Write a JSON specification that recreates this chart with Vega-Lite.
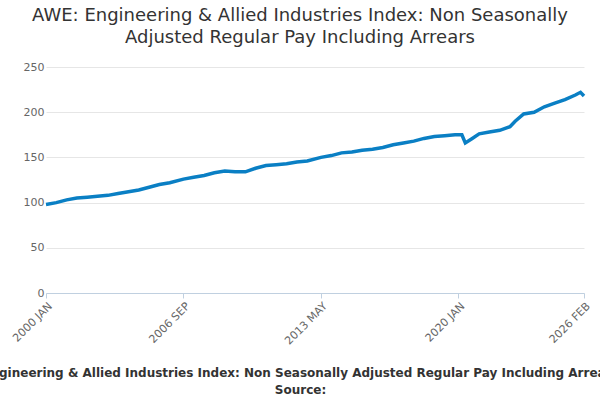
{
  "$schema": "https://vega.github.io/schema/vega-lite/v6.json",
  "width": 538,
  "height": 226,
  "autosize": "none",
  "padding": {"left": 46, "top": 67, "right": 16, "bottom": 107},
  "background": "white",
  "title": {
    "text": ["AWE: Engineering & Allied Industries Index: Non Seasonally", "Adjusted Regular Pay Including Arrears"],
    "fontSize": 18,
    "fontWeight": "normal",
    "font": "DejaVu Sans",
    "color": "#333333",
    "dx": -15,
    "offset": 14,
    "lineHeight": 22
  },
  "data": {
    "values": [
      {"date": "2000-01-01", "value": 98},
      {"date": "2000-07-01", "value": 100},
      {"date": "2001-01-01", "value": 103},
      {"date": "2001-07-01", "value": 105},
      {"date": "2002-01-01", "value": 106},
      {"date": "2002-07-01", "value": 107},
      {"date": "2003-01-01", "value": 108},
      {"date": "2003-07-01", "value": 110},
      {"date": "2004-01-01", "value": 112},
      {"date": "2004-07-01", "value": 114},
      {"date": "2005-01-01", "value": 117},
      {"date": "2005-07-01", "value": 120},
      {"date": "2006-01-01", "value": 122},
      {"date": "2006-09-01", "value": 126},
      {"date": "2007-03-01", "value": 128},
      {"date": "2007-09-01", "value": 130},
      {"date": "2008-03-01", "value": 133},
      {"date": "2008-09-01", "value": 135},
      {"date": "2009-03-01", "value": 134},
      {"date": "2009-09-01", "value": 134},
      {"date": "2010-03-01", "value": 138},
      {"date": "2010-09-01", "value": 141},
      {"date": "2011-03-01", "value": 142},
      {"date": "2011-09-01", "value": 143},
      {"date": "2012-03-01", "value": 145},
      {"date": "2012-09-01", "value": 146},
      {"date": "2013-05-01", "value": 150},
      {"date": "2013-11-01", "value": 152},
      {"date": "2014-05-01", "value": 155},
      {"date": "2014-11-01", "value": 156},
      {"date": "2015-05-01", "value": 158},
      {"date": "2015-11-01", "value": 159},
      {"date": "2016-05-01", "value": 161},
      {"date": "2016-11-01", "value": 164},
      {"date": "2017-05-01", "value": 166},
      {"date": "2017-11-01", "value": 168},
      {"date": "2018-05-01", "value": 171},
      {"date": "2018-11-01", "value": 173},
      {"date": "2019-05-01", "value": 174},
      {"date": "2019-11-01", "value": 175},
      {"date": "2020-03-01", "value": 175},
      {"date": "2020-05-01", "value": 166},
      {"date": "2020-09-01", "value": 171},
      {"date": "2021-01-01", "value": 176},
      {"date": "2021-07-01", "value": 178},
      {"date": "2022-01-01", "value": 180},
      {"date": "2022-07-01", "value": 184},
      {"date": "2022-10-01", "value": 190},
      {"date": "2023-03-01", "value": 198},
      {"date": "2023-09-01", "value": 200},
      {"date": "2024-03-01", "value": 206},
      {"date": "2024-09-01", "value": 210},
      {"date": "2025-03-01", "value": 214},
      {"date": "2025-09-01", "value": 219},
      {"date": "2025-12-01", "value": 222},
      {"date": "2026-02-01", "value": 218}
    ]
  },
  "mark": {"type": "line", "color": "#0a7fc4", "strokeWidth": 3.5},
  "encoding": {
    "x": {
      "field": "date",
      "type": "temporal",
      "scale": {"domain": ["2000-01-01", "2026-02-01"]},
      "axis": {
        "values": ["2000-01-01", "2006-09-01", "2013-05-01", "2020-01-01", "2026-02-01"],
        "labelExpr": "upper(timeFormat(datum.value, '%Y %b'))",
        "labelAngle": -45,
        "labelColor": "#666666",
        "labelFontSize": 11,
        "grid": false,
        "domainColor": "#c0d0e0",
        "tickColor": "#c0d0e0",
        "title": ["Engineering & Allied Industries Index: Non Seasonally Adjusted Regular Pay Including Arrears", "Source:"],
        "titleFontSize": 12,
        "titleFontWeight": "bold",
        "titleColor": "#333333",
        "titleX": 254,
        "titleY": 74,
        "titleLineHeight": 17
      }
    },
    "y": {
      "field": "value",
      "type": "quantitative",
      "scale": {"domain": [0, 250]},
      "axis": {
        "values": [0, 50, 100, 150, 200, 250],
        "title": null,
        "domain": false,
        "ticks": false,
        "labelColor": "#666666",
        "labelFontSize": 11,
        "gridColor": "#e6e6e6"
      }
    }
  },
  "config": {"view": {"stroke": null}, "font": "DejaVu Sans"}
}
